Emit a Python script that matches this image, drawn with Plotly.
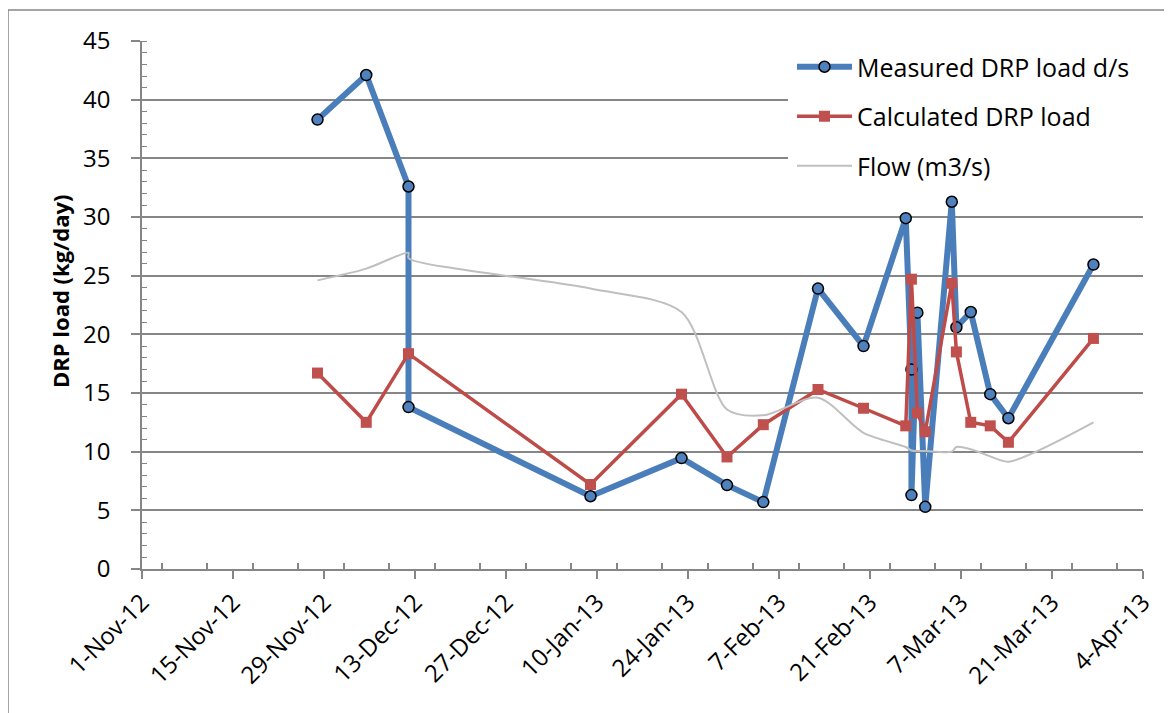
import plotly.graph_objects as go

# ---------------- data ----------------
measured_dates = [
    "2012-11-28", "2012-12-05 12:00", "2012-12-12", "2012-12-12",
    "2013-01-09", "2013-01-23", "2013-01-30", "2013-02-04 14:00",
    "2013-02-13", "2013-02-20", "2013-02-26 12:00", "2013-02-27 09:00",
    "2013-02-27 09:00", "2013-02-28 07:00", "2013-03-01 12:00",
    "2013-03-05 14:00", "2013-03-06 07:00", "2013-03-08 12:00",
    "2013-03-11 12:00", "2013-03-14 07:00", "2013-03-27 09:00",
]
measured_load = [
    38.3, 42.1, 32.6, 13.8,
    6.2, 9.45, 7.15, 5.7,
    23.9, 19.0, 29.9, 17.0,
    6.3, 21.85, 5.3,
    31.3, 20.6, 21.9,
    14.9, 12.85, 25.95,
]

calc_dates = [
    "2012-11-28", "2012-12-05 12:00", "2012-12-12",
    "2013-01-09", "2013-01-23", "2013-01-30", "2013-02-04 14:00",
    "2013-02-13", "2013-02-20", "2013-02-26 12:00", "2013-02-27 09:00",
    "2013-02-28 07:00", "2013-03-01 12:00", "2013-03-05 14:00",
    "2013-03-06 07:00", "2013-03-08 12:00", "2013-03-11 12:00",
    "2013-03-14 07:00", "2013-03-27 09:00",
]
calc_load = [
    16.7, 12.5, 18.35,
    7.2, 14.9, 9.55, 12.3,
    15.3, 13.7, 12.2, 24.7,
    13.3, 11.7, 24.35,
    18.5, 12.5, 12.2,
    10.8, 19.65,
]

flow_dates = [
    "2012-11-28", "2012-12-05 12:00", "2012-12-12", "2012-12-12",
    "2013-01-09", "2013-01-23", "2013-01-30", "2013-02-04 14:00",
    "2013-02-13", "2013-02-20", "2013-02-26 12:00", "2013-02-27 09:00",
    "2013-02-28 07:00", "2013-03-01 12:00", "2013-03-05 14:00",
    "2013-03-06 07:00", "2013-03-08 12:00", "2013-03-11 12:00",
    "2013-03-14 07:00", "2013-03-27 09:00",
]
flow_values = [
    24.6, 25.6, 26.95, 26.5,
    23.9, 21.9, 13.6, 13.1,
    14.6, 11.6, 10.4, 10.1,
    10.05, 10.05, 10.0,
    10.4, 10.2, 9.6,
    9.15, 12.5,
]

series_names = ["Measured DRP load d/s", "Calculated DRP load", "Flow (m3/s)"]
y_title = "DRP load (kg/day)"
x_range = ["2012-11-01", "2013-04-04"]
y_range = [0, 45]

# ---------------- figure ----------------
OFF = 8  # page body margin
W, H = 1172 - OFF, 713 - OFF
L, R, T, B = 142 - OFF, 29, 41 - OFF, 144
pw, ph = W - L - R, H - T - B


def px_x(x):  # page pixel -> paper x
    return (x - OFF - L) / pw


def px_y(y):  # page pixel -> paper y
    return 1 - (y - OFF - T) / ph


FONT = "Open Sans, Lato, DejaVu Sans, sans-serif"
GRID = "#868686"

fig = go.Figure()

fig.add_trace(go.Scatter(
    x=measured_dates, y=measured_load, name=series_names[0],
    mode="lines+markers", legendgroup="a",
    line=dict(color="#4A7EBB", width=6),
    marker=dict(symbol="circle", size=11, color="#4F81BD",
                line=dict(color="black", width=1.5)),
))
fig.add_trace(go.Scatter(
    x=calc_dates, y=calc_load, name=series_names[1],
    mode="lines+markers", legendgroup="b",
    line=dict(color="#BE4B48", width=3.5),
    marker=dict(symbol="square", size=11, color="#C0504D", line=dict(width=0)),
))
fig.add_trace(go.Scatter(
    x=flow_dates, y=flow_values, name=series_names[2],
    mode="lines", legendgroup="c",
    line=dict(color="#BFBFBF", width=2, shape="spline", smoothing=0.8),
))

DAY = 86400000

fig.update_layout(
    width=W, height=H,
    margin=dict(l=L, r=R, t=T, b=B, pad=0),
    paper_bgcolor="white", plot_bgcolor="white",
    font=dict(family=FONT, color="black", size=22),
    showlegend=True,
    legend=dict(
        x=px_x(792), y=px_y(44), xanchor="left", yanchor="top",
        bgcolor="rgba(0,0,0,0)", borderwidth=0,
        font=dict(family=FONT, size=25, color="black"),
        itemwidth=55, tracegroupgap=14, traceorder="grouped",
    ),
    xaxis=dict(
        type="date", range=x_range,
        tick0="2012-11-01", dtick=14 * DAY, tickformat="%-d-%b-%y",
        tickangle=-45, tickfont=dict(size=24),
        ticks="outside", ticklen=8, tickwidth=1.5, tickcolor=GRID,
        showline=True, linecolor=GRID, linewidth=1.5,
        showgrid=False, zeroline=False,
        minor=dict(dtick=7 * DAY, ticks="inside", ticklen=6,
                   tickwidth=1.5, tickcolor=GRID, showgrid=False),
    ),
    yaxis=dict(
        range=y_range, dtick=5, tick0=0,
        tickfont=dict(size=24), ticklabelstandoff=16,
        ticks="outside", ticklen=9, tickwidth=1.5, tickcolor=GRID,
        showline=True, linecolor=GRID, linewidth=1.5,
        showgrid=True, gridcolor=GRID, gridwidth=1.8,
        zeroline=False,
        minor=dict(dtick=1, ticks="inside", ticklen=5,
                   tickwidth=1.2, tickcolor=GRID, showgrid=False),
    ),
    annotations=[dict(
        text="<b>" + y_title + "</b>", textangle=-90,
        xref="paper", yref="paper",
        x=px_x(60), y=px_y(292),
        xanchor="center", yanchor="middle", showarrow=False,
        font=dict(family=FONT, size=22, color="black"),
    )],
    shapes=[
        dict(
            type="rect", xref="paper", yref="paper", layer="below",
            x0=px_x(8), x1=px_x(1185),
            y0=px_y(725), y1=px_y(10),
            line=dict(color=GRID, width=1.5), fillcolor="rgba(0,0,0,0)",
        ),
        dict(
            type="rect", xref="paper", yref="paper", layer="above",
            x0=px_x(788), x1=px_x(1146),
            y0=px_y(190), y1=px_y(46),
            line=dict(width=0), fillcolor="white",
        ),
    ],
)

fig.write_html("out.html")
